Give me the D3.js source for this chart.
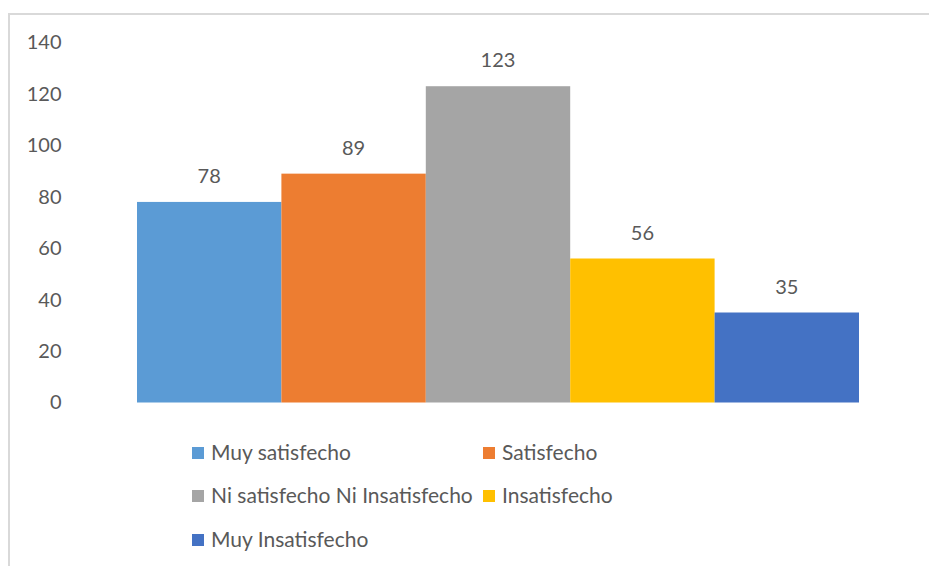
<!DOCTYPE html>
<html>
<head>
<meta charset="utf-8">
<script src="https://cdn.jsdelivr.net/npm/d3@7"></script>
<style>
  html, body { margin: 0; padding: 0; background: #fff; }
  svg { display: block; }
  text { font-family: Lato, "Open Sans", sans-serif; fill: #595959; }
</style>
</head>
<body>
<svg id="chart" width="929" height="566"></svg>
<script>
const categories = ["Muy satisfecho", "Satisfecho", "Ni satisfecho Ni Insatisfecho", "Insatisfecho", "Muy Insatisfecho"];
const values = [78, 89, 123, 56, 35];
const colors = ["#5B9BD5", "#ED7D31", "#A5A5A5", "#FFC000", "#4472C4"];
const yTicks = [0, 20, 40, 60, 80, 100, 120, 140];

const svg = d3.select("#chart");

// chart frame
svg.append("rect")
  .attr("x", 9).attr("y", 14)
  .attr("width", 960).attr("height", 600)
  .attr("fill", "#fff")
  .attr("stroke", "#d9d9d9").attr("stroke-width", 2);

const x = d3.scaleBand().domain(categories).range([137, 859]).padding(0);
const y = d3.scaleLinear().domain([0, 140]).range([402.5, 42.5]);

// value axis labels
const yAxis = d3.axisLeft(y).tickValues(yTicks).tickSize(0).tickPadding(0);
const gy = svg.append("g").attr("transform", "translate(61.5,0)").call(yAxis);
gy.select(".domain").remove();
gy.selectAll("text")
  .attr("font-size", 20)
  .attr("fill", "#595959")
  .style("font-family", "Lato, 'Open Sans', sans-serif");

// bars
svg.append("g").selectAll("rect")
  .data(values)
  .join("rect")
  .attr("x", (d, i) => x(categories[i]))
  .attr("y", d => y(d))
  .attr("width", x.bandwidth())
  .attr("height", d => y(0) - y(d))
  .attr("fill", (d, i) => colors[i]);

// value labels
svg.append("g").selectAll("text")
  .data(values)
  .join("text")
  .attr("x", (d, i) => x(categories[i]) + x.bandwidth() / 2)
  .attr("y", d => y(d) - 19)
  .attr("text-anchor", "middle")
  .attr("font-size", 20)
  .text(d => d);

// legend
const legendPos = [[192, 453], [483, 453], [192, 496], [483, 496], [192, 540]];
const lg = svg.append("g").selectAll("g")
  .data(categories)
  .join("g")
  .attr("transform", (d, i) => `translate(${legendPos[i][0]},${legendPos[i][1]})`);
lg.append("rect")
  .attr("x", 0).attr("y", -6)
  .attr("width", 12).attr("height", 12)
  .attr("fill", (d, i) => colors[i]);
lg.append("text")
  .attr("x", 19).attr("y", 0)
  .attr("dy", "0.35em")
  .attr("font-size", 21)
  .text(d => d);
</script>
</body>
</html>
